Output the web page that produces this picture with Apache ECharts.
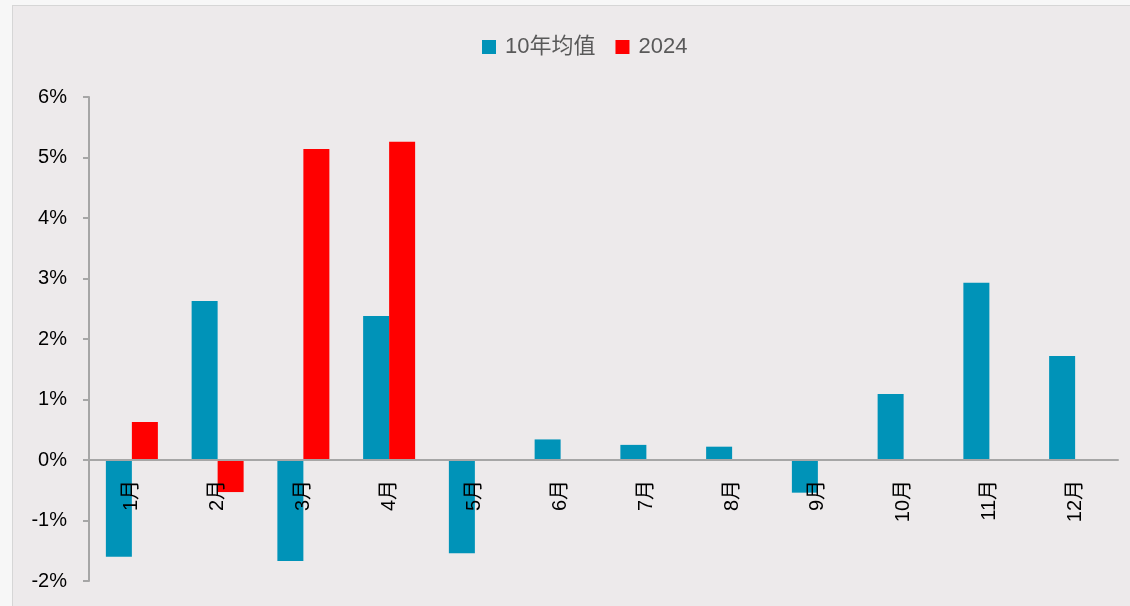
<!DOCTYPE html>
<html><head><meta charset="utf-8">
<script src="https://cdn.jsdelivr.net/npm/echarts@6/dist/echarts.min.js"></script>
<style>
html,body{margin:0;padding:0;background:#f7f7f7;width:1130px;height:606px;overflow:hidden;}
#bg{position:absolute;left:12px;top:5px;width:1130px;height:610px;background:#edeaeb;border-left:1px solid #d6d6d6;border-top:1px solid #d6d6d6;}
#c{position:absolute;left:0;top:0;width:1130px;height:606px;}
</style></head><body>
<div id="bg"></div><div id="c"></div>
<script>
const categories = ['1月','2月','3月','4月','5月','6月','7月','8月','9月','10月','11月','12月'];
const avg10 = [-1.60, 2.63, -1.67, 2.38, -1.54, 0.34, 0.25, 0.22, -0.54, 1.09, 2.93, 1.72];
const y2024 = [0.63, -0.53, 5.14, 5.26, null, null, null, null, null, null, null, null];
const seriesNames = ['10年均值', '2024'];

const font = '"Liberation Sans","Noto Sans CJK SC",sans-serif';
const chart = echarts.init(document.getElementById('c'), null, {renderer:'canvas'});
chart.setOption({
  backgroundColor: 'transparent',
  animation: false,
  legend: {
    top: 31, left: 477, itemWidth: 14, itemHeight: 14, itemGap: 20,
    icon: 'rect',
    textStyle: {fontFamily: font, fontSize: 22, color: '#595959', padding: [0,0,0,4]},
    data: seriesNames
  },
  grid: {left: 89, right: 12, top: 97, bottom: 25, containLabel: false, outerBoundsMode: 'none'},
  xAxis: {
    type: 'category', data: categories,
    offset: -121, z: 5,
    axisLine: {onZero: false, lineStyle: {color: '#a6a6a6', width: 2}},
    axisTick: {show: false},
    axisLabel: {rotate: 90, margin: 20, fontFamily: font, fontSize: 20, color: '#000'}
  },
  yAxis: {
    type: 'value', min: -2, max: 6, interval: 1,
    axisLine: {show: true, lineStyle: {color: '#a6a6a6', width: 2}},
    axisTick: {show: true, length: 6, lineStyle: {color: '#a6a6a6', width: 2}},
    splitLine: {show: false},
    axisLabel: {formatter: '{value}%', margin: 22, fontFamily: font, fontSize: 20, color: '#000'}
  },
  series: [
    {name: seriesNames[0], type: 'bar', data: avg10, barWidth: 26, barGap: '0%', itemStyle: {color: '#0093b8'}},
    {name: seriesNames[1], type: 'bar', data: y2024, barWidth: 26, barGap: '0%', itemStyle: {color: '#ff0000'}}
  ]
});
</script></body></html>
